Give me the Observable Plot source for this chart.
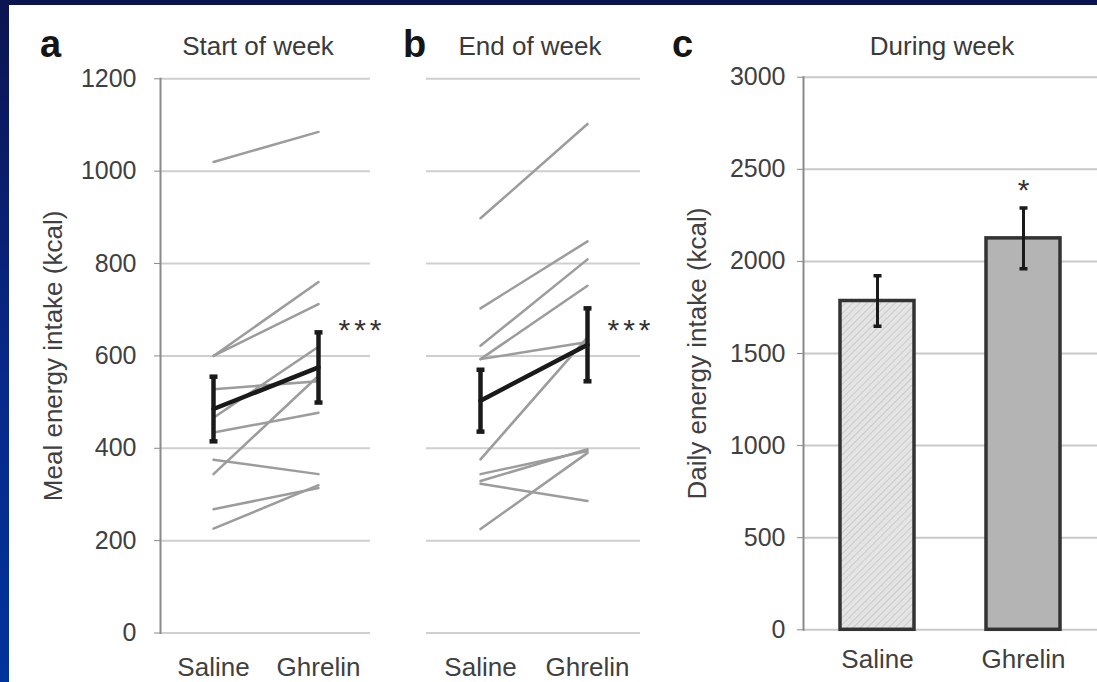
<!DOCTYPE html>
<html>
<head>
<meta charset="utf-8">
<script src="https://cdn.jsdelivr.net/npm/d3@7"></script>
<script src="https://cdn.jsdelivr.net/npm/@observablehq/plot@0.6"></script>
<style>
  html, body { margin: 0; padding: 0; }
  body {
    width: 1097px; height: 682px; overflow: hidden; position: relative;
    background: linear-gradient(180deg, #0b1450 0%, #08288a 55%, #00339c 100%);
    font-family: "Liberation Sans", Arial, Helvetica, sans-serif;
  }
  #sheet { position: absolute; left: 9px; top: 5px; width: 1088px; height: 677px; background: #fff; }
  .panel { position: absolute; top: 0; }
  .letter { position: absolute; font-weight: bold; font-size: 38px; line-height: 1; color: #151515; }
  .title { position: absolute; font-size: 26px; line-height: 1; color: #3a3a3a; white-space: nowrap; transform: translateX(-50%); }
</style>
</head>
<body>
<div id="sheet"></div>

<div class="letter" style="left:40px; top:25px">a</div>
<div class="title" style="left:258px; top:33px">Start of week</div>
<div class="letter" style="left:403px; top:25px">b</div>
<div class="title" style="left:530px; top:33px">End of week</div>
<div class="letter" style="left:672px; top:25px">c</div>
<div class="title" style="left:942px; top:33px">During week</div>

<div id="panelA" class="panel" style="left:0px"></div>
<div id="panelB" class="panel" style="left:400px"></div>
<div id="panelC" class="panel" style="left:660px"></div>

<script>
// Treatment groups (x categories)
const groups = ["Saline", "Ghrelin"];

// Meal energy intake (kcal) per participant, start of week
const startSaline  = [1020, 600, 600, 528, 466, 434, 344, 375, 268, 226];
const startGhrelin = [1085, 760, 712, 545, 620, 477, 557, 344, 314, 320];
const startMean = [485, 575];
const startSE   = [70, 76];

// Meal energy intake (kcal) per participant, end of week
const endSaline  = [898, 703, 622, 593, 593, 376, 344, 329, 323, 225];
const endGhrelin = [1102, 848, 809, 752, 630, 640, 394, 398, 286, 390];
const endMean = [503, 624];
const endSE   = [67, 79];

// Daily energy intake (kcal) during the week
const dailyMean = [1785, 2125];
const dailySE   = [137, 165];

// Axis ticks
const mealTicks  = [0, 200, 400, 600, 800, 1000, 1200];
const dailyTicks = [0, 500, 1000, 1500, 2000, 2500, 3000];

// Significance markers
const mealStarLevel = 655;
const mealStars = "***";
const dailyStars = "*";

const FONT = '"Liberation Sans", Arial, Helvetica, sans-serif';
const INK = "#404040";
const AXIS = "#8a8a8a";
const GRID = "#cfcfcf";
const MEAN = "#1a1a1a";

// Horizontal cap drawn as a symbol, for error bar ends
const capSymbol = {
  draw(ctx, size) {
    const r = Math.sqrt(size / Math.PI);
    ctx.moveTo(-r, 0);
    ctx.lineTo(r, 0);
  }
};

function pairedPanel({saline, ghrelin, mean, se, width, marginLeft, marginRight, withAxis, yLabel}) {
  const rows = saline.flatMap((v, i) => [
    {id: i, group: groups[0], value: v},
    {id: i, group: groups[1], value: ghrelin[i]}
  ]);
  const stats = groups.map((g, i) => ({group: g, value: mean[i], lo: mean[i] - se[i], hi: mean[i] + se[i]}));
  const caps = stats.flatMap(d => [{group: d.group, y: d.lo}, {group: d.group, y: d.hi}]);

  const marks = [
    Plot.gridY(mealTicks, {stroke: GRID, strokeOpacity: 1, strokeWidth: 2}),
    Plot.line(rows, {x: "group", y: "value", z: "id", stroke: "#9c9c9c", strokeWidth: 2.5}),
    Plot.line(stats, {x: "group", y: "value", stroke: MEAN, strokeWidth: 4.5}),
    Plot.ruleX(stats, {x: "group", y1: "lo", y2: "hi", stroke: MEAN, strokeWidth: 4.5}),
    Plot.dot(caps, {x: "group", y: "y", symbol: capSymbol, r: 4, stroke: MEAN, strokeWidth: 4.5}),
    Plot.text([{group: groups[1], value: mealStarLevel, label: mealStars}],
      {x: "group", y: "value", text: "label", textAnchor: "start", dx: 20, fontSize: 30, fill: "#333"}),
    Plot.axisX({tickSize: 0, tickPadding: 25, fontSize: 26, fill: INK, label: null})
  ];
  if (withAxis) {
    marks.push(
      Plot.frame({anchor: "left", stroke: AXIS, strokeWidth: 2}),
      Plot.axisY(mealTicks, {tickSize: 6, tickPadding: 18, fontSize: 25, stroke: AXIS, fill: INK, label: null, tickFormat: d => String(d)}),
      Plot.text([yLabel], {frameAnchor: "left", textAnchor: "middle", rotate: -90, dx: -107, fontSize: 26, fill: INK})
    );
  }
  return Plot.plot({
    width, height: 682,
    marginTop: 78.3, marginBottom: 49.5, marginLeft, marginRight,
    x: {type: "point", domain: groups, padding: 0.5},
    y: {domain: [0, 1200], axis: withAxis ? undefined : null},
    style: {fontFamily: FONT, background: "transparent", overflow: "visible"},
    marks
  });
}

function starSpacing(svg) {
  d3.select(svg).selectAll("text")
    .filter(function () { return this.textContent === mealStars; })
    .attr("letter-spacing", "4px");
  return svg;
}

document.getElementById("panelA").append(starSpacing(pairedPanel({
  saline: startSaline, ghrelin: startGhrelin, mean: startMean, se: startSE,
  width: 400, marginLeft: 160, marginRight: 30, withAxis: true,
  yLabel: "Meal energy intake (kcal)"
})));

document.getElementById("panelB").append(starSpacing(pairedPanel({
  saline: endSaline, ghrelin: endGhrelin, mean: endMean, se: endSE,
  width: 270, marginLeft: 26, marginRight: 30, withAxis: false
})));

// Bar chart of daily intake
const daily = groups.map((g, i) => ({group: g, value: dailyMean[i], lo: dailyMean[i] - dailySE[i], hi: dailyMean[i] + dailySE[i]}));
const dailyCaps = daily.flatMap(d => [{group: d.group, y: d.lo}, {group: d.group, y: d.hi}]);

const hatchDefs = () => {
  const defs = d3.create("svg:defs");
  const p = defs.append("pattern")
    .attr("id", "hatch")
    .attr("patternUnits", "userSpaceOnUse")
    .attr("width", 5).attr("height", 5)
    .attr("patternTransform", "rotate(45)");
  p.append("rect").attr("width", 5).attr("height", 5).attr("fill", "#e4e4e4");
  p.append("line").attr("x1", 0).attr("y1", 0).attr("x2", 0).attr("y2", 5)
    .attr("stroke", "#c4c4c4").attr("stroke-width", 1.6);
  return defs.node();
};

const panelC = Plot.plot({
  width: 437, height: 682,
  marginTop: 76.7, marginBottom: 52.7, marginLeft: 143, marginRight: 0,
  x: {type: "band", domain: groups, paddingInner: 0.493, paddingOuter: 0.253},
  y: {domain: [0, 3000]},
  style: {fontFamily: FONT, background: "transparent", overflow: "visible"},
  marks: [
    hatchDefs,
    Plot.gridY(dailyTicks, {stroke: "#c9c9c9", strokeOpacity: 1, strokeWidth: 2}),
    Plot.barY(daily.filter(d => d.group === groups[0]), {x: "group", y: "value", fill: "url(#hatch)", stroke: "#333", strokeWidth: 3.5}),
    Plot.barY(daily.filter(d => d.group === groups[1]), {x: "group", y: "value", fill: "#b4b4b4", stroke: "#333", strokeWidth: 3.5}),
    Plot.ruleX(daily, {x: "group", y1: "lo", y2: "hi", stroke: MEAN, strokeWidth: 3}),
    Plot.dot(dailyCaps, {x: "group", y: "y", symbol: capSymbol, r: 4, stroke: MEAN, strokeWidth: 3.5}),
    Plot.text(daily.filter(d => d.group === groups[1]), {x: "group", y: "hi", text: () => dailyStars, lineAnchor: "bottom", dy: -8, fontSize: 30, fill: "#333"}),
    Plot.frame({anchor: "left", stroke: AXIS, strokeWidth: 2}),
    Plot.axisY(dailyTicks, {tickSize: 6, tickPadding: 12, fontSize: 25, stroke: AXIS, fill: INK, label: null, tickFormat: d => String(d)}),
    Plot.axisX({tickSize: 0, tickPadding: 20, fontSize: 26, fill: INK, label: null}),
    Plot.text(["Daily energy intake (kcal)"], {frameAnchor: "left", textAnchor: "middle", rotate: -90, dx: -106, fontSize: 26, fill: INK})
  ]
});
document.getElementById("panelC").append(panelC);
</script>
</body>
</html>
